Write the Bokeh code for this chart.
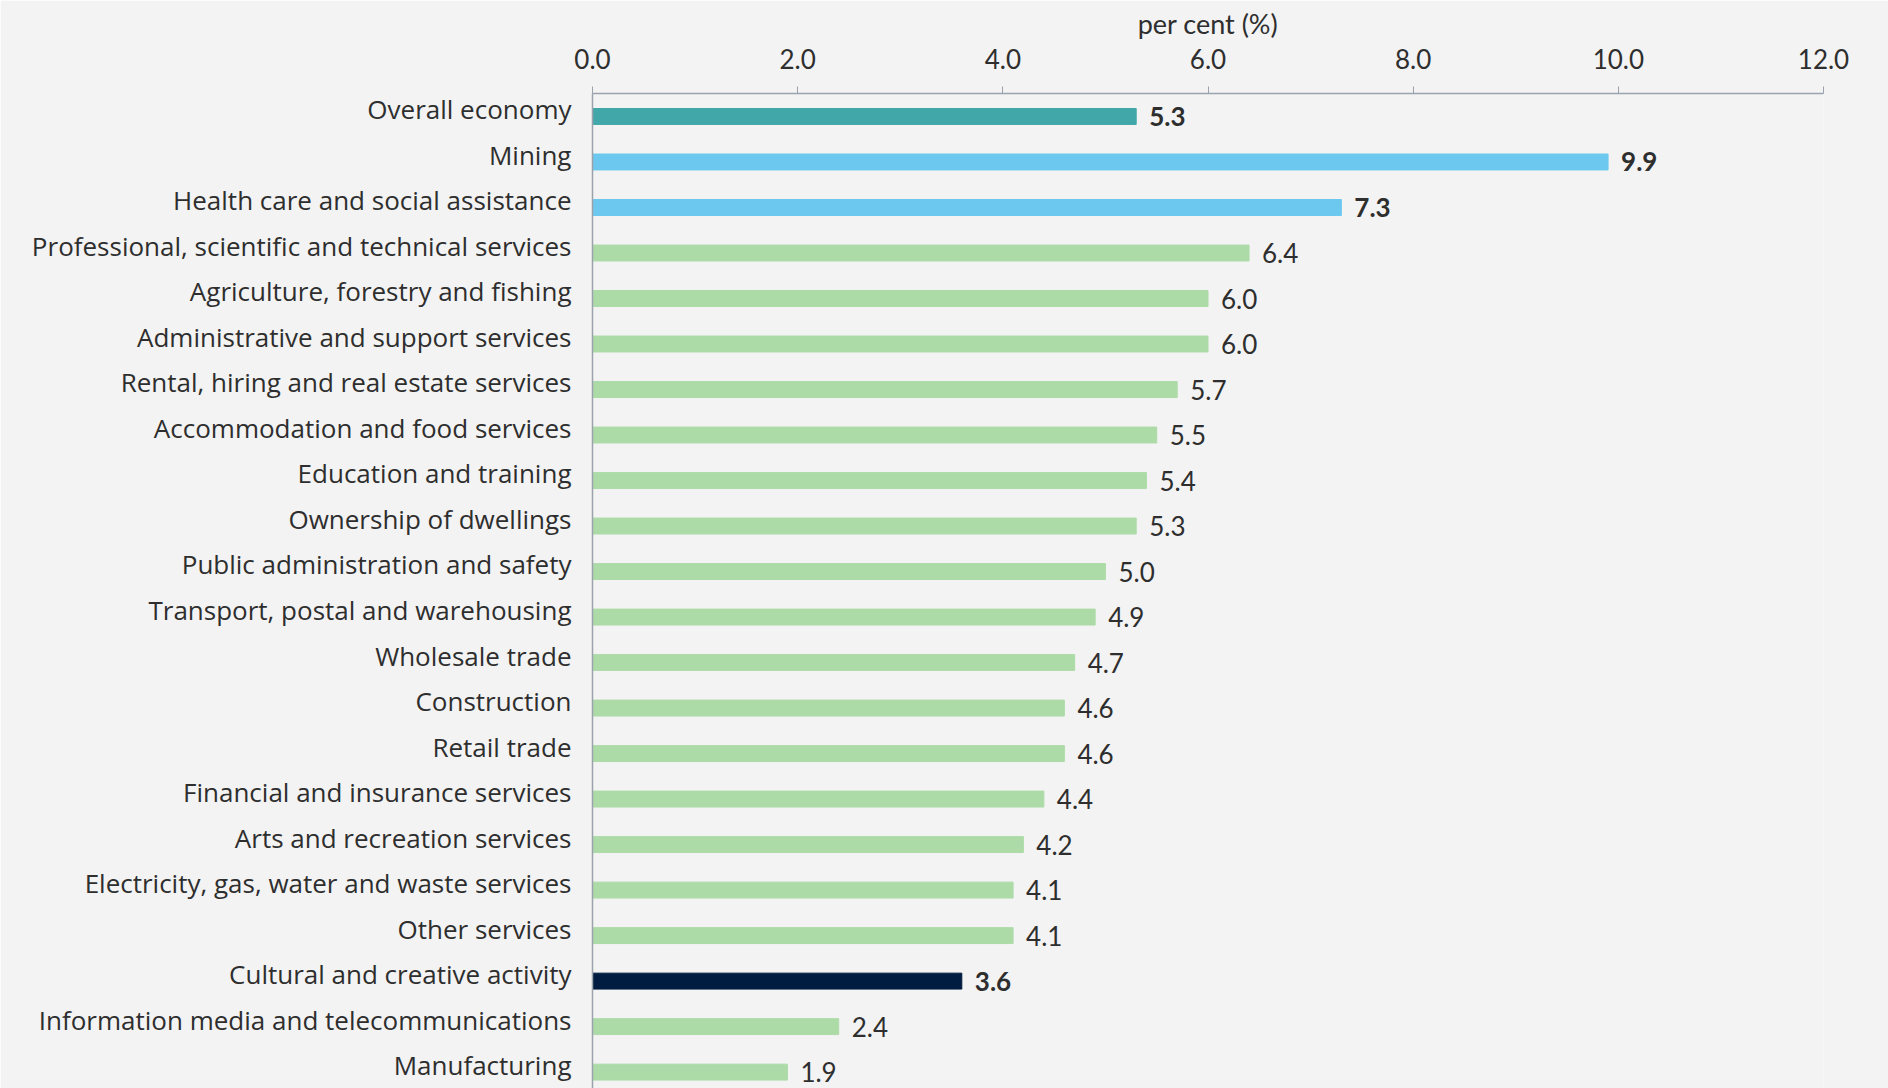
from bokeh.plotting import figure
from bokeh.models import ColumnDataSource, Range1d, FixedTicker, NumeralTickFormatter
from bokeh.core.properties import value
from bokeh.transform import dodge
from bokeh.embed import file_html
from bokeh.resources import INLINE

categories = [
    "Overall economy", "Mining", "Health care and social assistance",
    "Professional, scientific and technical services",
    "Agriculture, forestry and fishing", "Administrative and support services",
    "Rental, hiring and real estate services", "Accommodation and food services",
    "Education and training", "Ownership of dwellings",
    "Public administration and safety", "Transport, postal and warehousing",
    "Wholesale trade", "Construction", "Retail trade",
    "Financial and insurance services", "Arts and recreation services",
    "Electricity, gas, water and waste services", "Other services",
    "Cultural and creative activity", "Information media and telecommunications",
    "Manufacturing",
]
values = [5.3, 9.9, 7.3, 6.4, 6.0, 6.0, 5.7, 5.5, 5.4, 5.3, 5.0, 4.9, 4.7,
          4.6, 4.6, 4.4, 4.2, 4.1, 4.1, 3.6, 2.4, 1.9]
groups = ["overall", "top", "top"] + ["other"] * 16 + ["cultural", "other", "other"]
x_ticks = [0, 2, 4, 6, 8, 10, 12]
x_title = "per cent (%)"

palette = {"overall": "#41A7A8", "top": "#6CC8EE", "other": "#ADDBA8", "cultural": "#001C40"}
bold_groups = {"overall", "top", "cultural"}

ys = list(range(len(categories)))
src = ColumnDataSource(dict(
    y=ys, value=values, cat=categories,
    color=[palette[g] for g in groups],
))
b_idx = [i for i, g in enumerate(groups) if g in bold_groups]
n_idx = [i for i, g in enumerate(groups) if g not in bold_groups]
src_bold = ColumnDataSource(dict(y=[ys[i] for i in b_idx], value=[values[i] for i in b_idx],
                                 label=[f"{values[i]:.1f}" for i in b_idx]))
src_norm = ColumnDataSource(dict(y=[ys[i] for i in n_idx], value=[values[i] for i in n_idx],
                                 label=[f"{values[i]:.1f}" for i in n_idx]))

BG = "#F3F3F3"
AX = "#9AA3AD"
TXT = "#2E2E2E"
SHIFT = 0.155  # bars sit slightly below their category label

yr = Range1d(21.515, -0.35)
p = figure(frame_width=1231, frame_height=995, output_backend="svg", toolbar_location=None,
           x_range=Range1d(0, 12), y_range=yr,
           x_axis_location="above", min_border_left=592, min_border_top=93,
           min_border_right=65, min_border_bottom=0)
p.background_fill_color = BG
p.border_fill_color = BG
p.outline_line_color = None
p.grid.visible = False

p.hbar(y=dodge("y", SHIFT, range=yr), right="value", left=0, height=0.35,
       color="color", source=src)
for s, style in ((src_norm, "normal"), (src_bold, "bold")):
    p.text(x="value", y=dodge("y", SHIFT, range=yr), text="label", source=s, x_offset=13,
           text_baseline="middle", text_align="left", text_font=value("Lato"),
           text_font_size="26px", text_color=TXT, text_font_style=style)

xa = p.xaxis[0]
xa.ticker = FixedTicker(ticks=x_ticks)
xa.formatter = NumeralTickFormatter(format="0.0")
xa.axis_line_color = AX
xa.axis_line_width = 1.5
xa.major_tick_line_color = AX
xa.major_tick_out = 7
xa.major_tick_in = 0
xa.minor_tick_line_color = None
xa.major_label_text_font = "Lato"
xa.major_label_text_font_size = "26px"
xa.major_label_text_color = TXT
xa.major_label_standoff = 18
xa.axis_label = x_title
xa.axis_label_text_font = "Lato"
xa.axis_label_text_font_style = "normal"
xa.axis_label_text_font_size = "27px"
xa.axis_label_text_color = TXT
xa.axis_label_standoff = 6

ya = p.yaxis[0]
ya.ticker = FixedTicker(ticks=ys)
ya.major_label_overrides = {i: c for i, c in zip(ys, categories)}
ya.axis_line_color = AX
ya.axis_line_width = 1.5
ya.major_tick_line_color = None
ya.minor_tick_line_color = None
ya.major_label_standoff = 15
ya.major_label_text_font = "Open Sans"
ya.major_label_text_font_size = "26px"
ya.major_label_text_color = TXT

open("out.html", "w").write(file_html(p, INLINE))
